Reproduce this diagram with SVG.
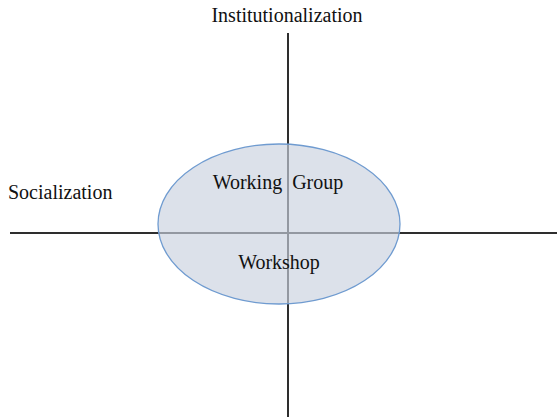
<svg xmlns="http://www.w3.org/2000/svg" width="557" height="417" viewBox="0 0 557 417">
  <style>
    .axis { stroke: #2e2e2e; stroke-width: 2; fill: none; }
    .label { font-family: "Liberation Serif", "Times New Roman", serif; font-size: 20px; fill: #111; }
    .zone { fill: rgb(202,209,222); fill-opacity: 0.65; stroke: #6f9bd0; stroke-width: 1.3; }
  </style>
  <rect width="557" height="417" fill="#ffffff"/>

  <!-- axes -->
  <g id="connectors">
    <line class="axis" x1="288" y1="33" x2="288" y2="417"/>
    <line class="axis" x1="10" y1="233" x2="557" y2="233"/>
  </g>

  <!-- axis labels -->
  <g id="institutionalization">
    <text class="label" x="287" y="22" text-anchor="middle">Institutionalization</text>
  </g>
  <g id="socialization">
    <text class="label" x="8" y="199">Socialization</text>
  </g>

  <!-- translucent region over the crossing -->
  <g id="region">
    <ellipse class="zone" cx="279" cy="224" rx="121" ry="80"/>
    <text class="label" x="278" y="189" text-anchor="middle" xml:space="preserve">Working  Group</text>
    <text class="label" x="279" y="269" text-anchor="middle">Workshop</text>
  </g>
</svg>
